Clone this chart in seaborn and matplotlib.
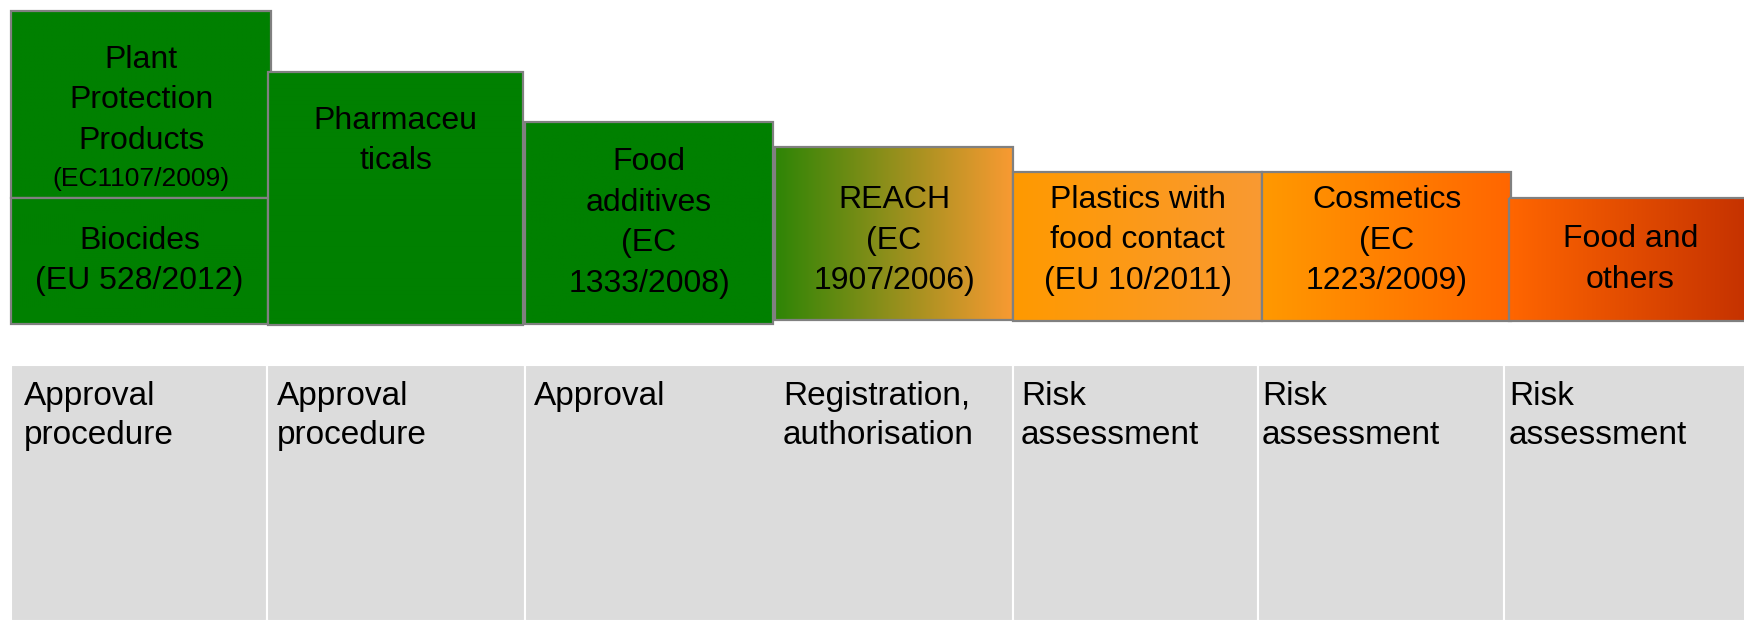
import numpy as np
import matplotlib.pyplot as plt
import matplotlib.colors as mcolors
import seaborn as sns

# legislation boxes (top row), pixel coordinates
box_labels = ["Plant\nProtection\nProducts", "Biocides\n(EU 528/2012)", "Pharmaceu\nticals",
              "Food\nadditives\n(EC\n1333/2008)", "REACH\n(EC\n1907/2006)",
              "Plastics with\nfood contact\n(EU 10/2011)", "Cosmetics\n(EC\n1223/2009)",
              "Food and\nothers"]
box_left = [11, 11, 268, 525, 775, 1013, 1262, 1509]
box_right = [271, 268, 523, 773, 1013, 1262, 1511, 1752]
box_top = [11, 198, 72, 122, 147, 172, 172, 198]
box_bottom = [198, 324, 325, 324, 320, 321, 321, 321]
color_from = ["#008000", "#008000", "#008000", "#008000", "#2e8506", "#ff9900", "#ff9900", "#ff6600"]
color_to = ["#008000", "#008000", "#008000", "#008000", "#f99a32", "#f99a32", "#ff6600", "#c43100"]
plant_reg = "(EC1107/2009)"

# procedure row (bottom)
panel_edges = [11, 267, 525, 1013, 1258, 1504, 1750]
step_labels = ["Approval\nprocedure", "Approval\nprocedure", "Approval", "Registration,\nauthorisation",
               "Risk\nassessment", "Risk\nassessment", "Risk\nassessment"]
step_cols = [13, 266, 523, 772, 1010, 1251, 1498]

W, H = 1744, 621
sns.set_theme(style="white")
plt.rcParams["font.family"] = ["Liberation Sans", "DejaVu Sans"]
plt.rcParams["text.color"] = "black"

fig = plt.figure(figsize=(W / 100, H / 100), dpi=100)
ax = fig.add_axes([0, 0, 1, 1])

# grey panels
lefts = np.array(panel_edges[:-1])
widths = np.diff(panel_edges)
ax.bar(lefts, H - 365, bottom=365, width=widths, align="edge",
       color="#dcdcdc", edgecolor="white", linewidth=1.5, zorder=1)
for x, txt in zip(step_cols, step_labels):
    ax.text(x + 11, 381, txt, ha="left", va="top", fontsize=24, linespacing=1.34, zorder=2)

# coloured boxes with horizontal gradients
for i, txt in enumerate(box_labels):
    l, r, t, b = box_left[i], box_right[i], box_top[i], box_bottom[i]
    c0 = np.array(mcolors.to_rgb(color_from[i]))
    c1 = np.array(mcolors.to_rgb(color_to[i]))
    s = np.linspace(0, 1, 256)[:, None]
    grad = (c0 * (1 - s) + c1 * s)[None, :, :]
    z = 3 + 2 * i
    ax.imshow(grad, extent=(l, r, b, t), aspect="auto", interpolation="bilinear", zorder=z)
    ax.bar(l, b - t, bottom=t, width=r - l, align="edge", facecolor="none",
           edgecolor="#808080", linewidth=1.6, zorder=z + 0.5)
    cx = (l + r) / 2
    if i in (0, 2):
        ax.text(cx, t + 34, txt, ha="center", va="top", fontsize=23, linespacing=1.45, zorder=z + 1)
    else:
        # REACH sits a little lower, plastics/cosmetics a little higher than centre
        cy = (t + b) / 2 + {4: 7, 5: -6, 6: -6}.get(i, 0)
        ax.text(cx, cy, txt, ha="center", va="center", fontsize=23, linespacing=1.45, zorder=z + 1)
    if i == 0:
        ax.text(cx, 179, plant_reg, ha="center", va="center", fontsize=19, zorder=z + 1)

ax.set_xlim(0, W)
ax.set_ylim(H, 0)
ax.axis("off")
fig.savefig("out.png", dpi=100)
